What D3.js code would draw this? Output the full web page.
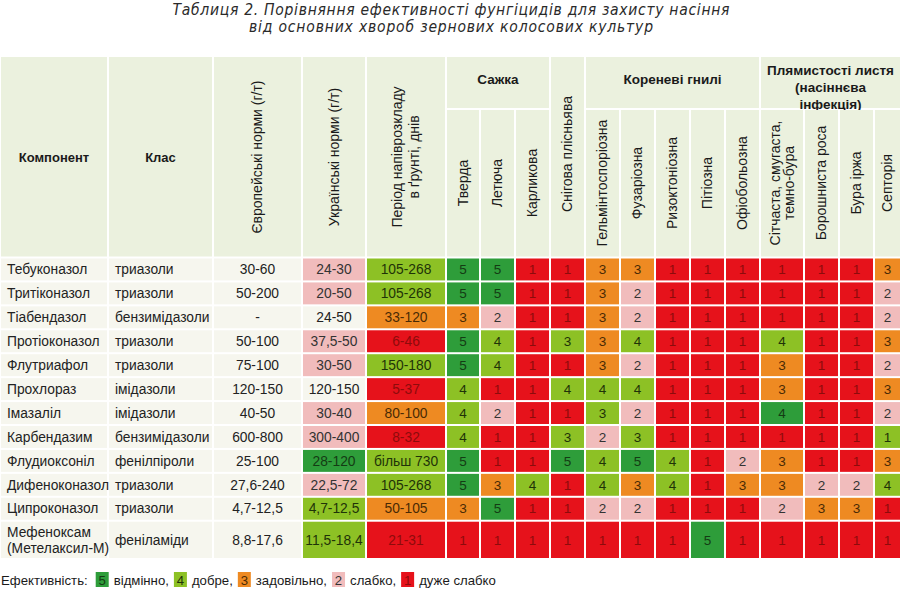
<!DOCTYPE html>
<html><head><meta charset="utf-8">
<script src="https://cdn.jsdelivr.net/npm/d3@7"></script>
<style>body{margin:0;background:#fff}svg{display:block}</style>
</head><body><svg id="c" width="900" height="589"></svg>
<script>
// ---------------- DATA ----------------
const titleLines = [
  "Таблиця 2. Порівняння ефективності фунгіцидів для захисту насіння",
  "від основних хвороб зернових колосових культур"
];
const components = ["Тебуконазол","Тритіконазол","Тіабендазол","Протіоконазол","Флутриафол","Прохлораз","Імазаліл","Карбендазим","Флудиоксоніл","Дифеноконазол","Ципроконазол","Мефеноксам\n(Метелаксил-М)"];
const classes = ["триазоли","триазоли","бензимідазоли","триазоли","триазоли","імідазоли","імідазоли","бензимідазоли","фенілпіроли","триазоли","триазоли","феніламіди"];
const euNorms = ["30-60","50-200","-","50-100","75-100","120-150","40-50","600-800","25-100","27,6-240","4,7-12,5","8,8-17,6"];
const uaNorms = ["24-30","20-50","24-50","37,5-50","30-50","120-150","30-40","300-400","28-120","22,5-72","4,7-12,5","11,5-18,4"];
const uaNormGrades = [2,2,0,2,2,0,2,2,5,2,4,4];
const halfLife = ["105-268","105-268","33-120","6-46","150-180","5-37","80-100","8-32","більш 730","105-268","50-105","21-31"];
const halfLifeGrades = [4,4,3,1,4,1,3,1,4,4,3,1];
const diseases = ["Тверда","Летюча","Карликова","Снігова  плісньява","Гельмінтоспоріозна","Фузаріозна","Ризоктоніозна","Пітіозна","Офіобольозна","Сітчаста, смугаста,\nтемно-бура","Борошниста роса","Бура іржа","Септорія"];
const diseaseGroups = ["Сажка","Сажка","Сажка",null,"Кореневі гнилі","Кореневі гнилі","Кореневі гнилі","Кореневі гнилі","Кореневі гнилі","Плямистості листя\n(насіннєва\nінфекція)","Плямистості листя\n(насіннєва\nінфекція)","Плямистості листя\n(насіннєва\nінфекція)","Плямистості листя\n(насіннєва\nінфекція)"];
const efficacy = [
  [5,5,1,1,3,3,1,1,1,1,1,1,3],
  [5,5,1,1,3,2,1,1,1,1,1,1,2],
  [3,2,1,1,3,2,1,1,1,1,1,1,2],
  [5,4,1,3,3,4,1,1,1,4,1,1,3],
  [5,4,1,1,3,2,1,1,1,3,1,1,2],
  [4,1,1,4,4,4,1,1,1,3,1,1,3],
  [4,2,1,1,3,2,1,1,1,4,1,1,2],
  [4,1,1,3,2,3,1,1,1,1,1,1,1],
  [5,1,1,5,4,5,4,1,2,3,1,1,3],
  [5,3,4,1,4,3,4,1,3,3,2,2,4],
  [3,5,1,1,2,2,1,1,1,2,3,3,1],
  [1,1,1,1,1,1,1,5,1,1,1,1,1]
];
// colour grade shown in each cell (as printed; a few differ from the number)
const efficacyGrades = [
  [5,5,1,1,3,3,1,1,1,1,1,1,3],
  [5,5,1,1,3,2,1,1,1,1,1,1,2],
  [3,2,1,1,3,2,1,1,1,1,1,1,2],
  [5,4,1,4,3,4,1,1,1,4,1,1,3],
  [5,4,1,1,3,2,1,1,1,3,1,1,2],
  [4,1,1,4,4,4,1,1,1,3,1,1,3],
  [4,2,1,1,4,2,1,1,1,5,1,1,2],
  [4,1,1,4,2,4,1,1,1,1,1,1,4],
  [5,1,1,5,4,5,4,1,2,3,1,1,3],
  [5,3,4,1,4,3,4,1,3,3,2,2,4],
  [3,5,1,1,2,2,1,1,1,2,3,3,1],
  [1,1,1,1,1,1,1,5,1,1,1,1,1]
];
const headerLabels = ["Компонент","Клас","Європейські норми (г/т)","Українські норми (г/т)","Період напіврозкладу\nв ґрунті, днів"];
const legendTitle = "Ефективність:";
const legendGrades = [5,4,3,2,1];
const legendLabels = ["відмінно,","добре,","задовільно,","слабко,","дуже слабко"];

// ---------------- LAYOUT ----------------
const svg = d3.select("#c");
const FONT = "'Liberation Sans', Arial, sans-serif";
const colWidths = [108,105,89,64,80,34,35,35,35,35,35,35,35,35,44,35,35,27];
const colKeys = d3.range(colWidths.length);
const colLefts = [0, ...d3.cumsum(colWidths)].slice(0, -1);
const xL = d3.scaleOrdinal(colKeys, colLefts);
const xW = d3.scaleOrdinal(colKeys, colWidths);
const xC = k => xL(k) + xW(k) / 2;

const headTop = 56, groupBottom = 109, bodyTop = 257.5, bodyBottom = 559;
const rowUnits = components.map(c => c.includes("\n") ? 1.6 : 1);
const unitEdges = [0, ...d3.cumsum(rowUnits)];
const yUnit = d3.scaleLinear().domain([0, d3.sum(rowUnits)]).range([bodyTop, bodyBottom]);
const yT = i => yUnit(unitEdges[i]);
const yH = i => yUnit(unitEdges[i + 1]) - yUnit(unitEdges[i]);

const colour = d3.scaleOrdinal([0,1,2,3,4,5], ["#f6f6ee","#e6121b","#f1bcbc","#ee8a22","#8dc125","#2e9d3a"]);
const textColour = d3.scaleOrdinal([0,1,2,3,4,5], ["#222","#8e0b0b","#333","#4a2a05","#1f3308","#143c14"]);
const headBg = "#ebf1de", plainBg = "#f6f6ee";
const G = 1;

// ---------------- TITLE ----------------
svg.selectAll("text.title").data(titleLines).join("text")
  .attr("class","title")
  .attr("x", 451).attr("y", (d,i) => 15 + i * 17)
  .attr("text-anchor","middle")
  .attr("font-family","'Liberation Sans Narrow','Arial Narrow','DejaVu Sans Condensed',sans-serif")
  .attr("font-style","italic").attr("font-size",15.5).attr("fill","#2a2a2a")
  .attr("textLength",(d,i)=> i===0 ? 557 : 404).attr("lengthAdjust","spacing")
  .text(d => d);

// ---------------- HEADER ----------------
const head = svg.append("g");
function cell(g, x, y, w, h, fill) {
  g.append("rect").attr("x", x + G).attr("y", y + G).attr("width", w - 2*G).attr("height", h - 2*G).attr("fill", fill);
}
function multiText(g, lines, x, y, opts) {
  const lh = opts.lh || 15;
  const n = lines.length;
  lines.forEach((ln, i) => {
    const off = (i - (n - 1) / 2) * lh;
    const t = g.append("text")
      .attr("font-family", FONT).attr("font-size", opts.size || 13)
      .attr("font-weight", opts.bold ? "bold" : "normal")
      .attr("fill", opts.fill || "#1a1a1a")
      .attr("text-anchor", opts.anchor || "middle")
      .text(ln);
    if (opts.rotate) {
      t.attr("transform", `translate(${x + off + 4.8},${y}) rotate(-90)`);
    } else {
      t.attr("x", x).attr("y", y + off + 4.7);
    }
  });
}
// fixed header columns
headerLabels.forEach((lab, k) => {
  cell(head, xL(k), headTop, xW(k), bodyTop - headTop, headBg);
  multiText(head, lab.split("\n"), xC(k), 157, {bold: k < 2, rotate: k >= 2, lh: 17, size: k < 2 ? 13 : 14});
});
// disease groups
const firstDis = headerLabels.length;
const groupRuns = [];
diseaseGroups.forEach((g, i) => {
  const last = groupRuns[groupRuns.length - 1];
  if (g && last && last.name === g) last.end = i; else groupRuns.push({name: g, start: i, end: i});
});
groupRuns.forEach(r => {
  const k0 = firstDis + r.start, k1 = firstDis + r.end;
  const x0 = xL(k0), x1 = xL(k1) + xW(k1);
  if (r.name) {
    cell(head, x0, headTop, x1 - x0, groupBottom - headTop, headBg);
    const lines = r.name.split("\n");
    multiText(head, lines, (x0 + x1) / 2, lines.length > 1 ? 87 : 79, {bold: true, lh: 17, size: 13.5});
  }
});
diseases.forEach((d, i) => {
  const k = firstDis + i;
  const top = diseaseGroups[i] ? groupBottom : headTop;
  cell(head, xL(k), top, xW(k), bodyTop - top, headBg);
  multiText(head, d.split("\n"), xC(k), diseaseGroups[i] ? 183 : 154, {rotate: true, lh: 14.5, size: 14});
});

// ---------------- BODY ----------------
const body = svg.append("g");
components.forEach((comp, r) => {
  const y = yT(r), h = yH(r), cy = y + h / 2;
  const rowCells = [
    {text: comp, grade: 0, anchor: "start", pad: 7},
    {text: classes[r], grade: 0, anchor: "start", pad: 7},
    {text: euNorms[r], grade: 0},
    {text: uaNorms[r], grade: uaNormGrades[r]},
    {text: halfLife[r], grade: halfLifeGrades[r]},
    ...efficacy[r].map((v, j) => ({text: String(v), grade: efficacyGrades[r][j]}))
  ];
  rowCells.forEach((c, k) => {
    cell(body, xL(k), y, xW(k), h, c.grade ? colour(c.grade) : plainBg);
    const tx = c.anchor === "start" ? xL(k) + c.pad : xC(k);
    multiText(body, c.text.split("\n"), tx, cy, {anchor: c.anchor || "middle", size: k < 5 ? 13.8 : 13.5, lh: 16, fill: textColour(c.grade)});
  });
});

// ---------------- LEGEND ----------------
const leg = svg.append("g").attr("font-family", FONT).attr("font-size", 13.2);
let lx = 1;
const ly = 585;
const t0 = leg.append("text").attr("x", lx).attr("y", ly).attr("fill","#1a1a1a").text(legendTitle);
lx += t0.node().getComputedTextLength() + 8;
legendGrades.forEach((g, i) => {
  leg.append("rect").attr("x", lx).attr("y", ly - 13).attr("width", 13).attr("height", 15).attr("fill", colour(g));
  leg.append("text").attr("x", lx + 6.5).attr("y", ly).attr("text-anchor","middle").attr("fill", textColour(g)).text(g);
  lx += 18;
  const t = leg.append("text").attr("x", lx).attr("y", ly).attr("fill","#1a1a1a").text(legendLabels[i]);
  lx += t.node().getComputedTextLength() + 5;
});
</script></body></html>
